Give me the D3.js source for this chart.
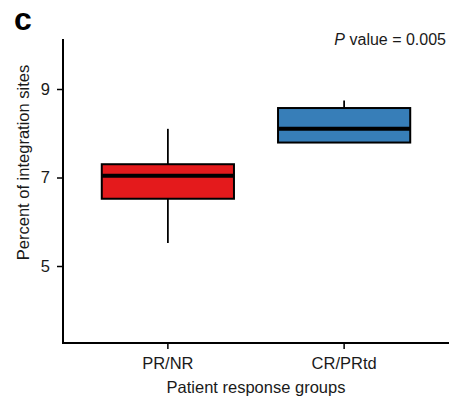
<!DOCTYPE html>
<html>
<head>
<meta charset="utf-8">
<script src="https://cdn.jsdelivr.net/npm/d3@7"></script>
<style>
  body { margin: 0; background: #fff; }
  svg { display: block; font-family: "Liberation Sans", Arial, sans-serif; }
</style>
</head>
<body>
<div id="chart"></div>
<script>
// groups and their box statistics
const groups = ["PR/NR", "CR/PRtd"];
const colors = ["#e41a1c", "#377eb8"];
const whiskerLow = [5.52, 7.79];
const q1 = [6.52, 7.79];
const median = [7.04, 8.10];
const q3 = [7.30, 8.57];
const whiskerHigh = [8.10, 8.74];
const yTicks = [5, 7, 9];

const width = 449, height = 401;
const margin = { top: 39, right: 0, bottom: 58, left: 63 };

const svg = d3.select("#chart").append("svg")
    .attr("width", width)
    .attr("height", height);

const x = d3.scaleBand()
    .domain(groups)
    .range([margin.left, width - margin.right])
    .paddingInner(0.25)
    .paddingOuter(0.22);

const y = d3.scaleLinear()
    .domain([3.26, 10.13])
    .range([height - margin.bottom, margin.top]);

// panel letter
svg.append("text")
    .attr("x", 14)
    .attr("y", 29.5)
    .attr("font-size", 32)
    .attr("font-weight", "bold")
    .text("c");

// p value
const pText = svg.append("text")
    .attr("x", 446)
    .attr("y", 45)
    .attr("text-anchor", "end")
    .attr("font-size", 16)
    .attr("fill", "#1a1a1a");
pText.append("tspan").attr("font-style", "italic").text("P");
pText.append("tspan").text(" value = 0.005");

// axes
const yAxis = svg.append("g")
    .attr("transform", `translate(${margin.left},0)`)
    .call(d3.axisLeft(y).tickValues(yTicks).tickFormat(d3.format("d"))
        .tickSize(6).tickPadding(7).tickSizeOuter(0));
const xAxis = svg.append("g")
    .attr("transform", `translate(0,${height - margin.bottom})`)
    .call(d3.axisBottom(x).tickSize(6).tickPadding(8).tickSizeOuter(0));

[yAxis, xAxis].forEach(g => {
    g.select(".domain").attr("stroke", "#000").attr("stroke-width", 2);
    g.selectAll(".tick line").attr("stroke", "#000").attr("stroke-width", 1.5);
    g.selectAll(".tick text").attr("font-size", 16.5).attr("fill", "#1a1a1a")
        .attr("font-family", "Liberation Sans, Arial, sans-serif");
});
// let the two axis lines meet in the corner
yAxis.select(".domain").attr("d", `M0,${y(10.13)}V${height - margin.bottom + 1}`);
xAxis.select(".domain").attr("d", `M${margin.left - 1},0H${width}`);

// axis titles
svg.append("text")
    .attr("transform", "translate(29,162.5) rotate(-90)")
    .attr("text-anchor", "middle")
    .attr("font-size", 16.5)
    .attr("fill", "#1a1a1a")
    .text("Percent of integration sites");

svg.append("text")
    .attr("x", 256)
    .attr("y", 393)
    .attr("text-anchor", "middle")
    .attr("font-size", 16.5)
    .attr("fill", "#1a1a1a")
    .text("Patient response groups");

// boxes
const boxes = svg.append("g")
    .selectAll("g")
    .data(groups)
    .join("g");

boxes.append("line")
    .attr("x1", d => x(d) + x.bandwidth() / 2)
    .attr("x2", d => x(d) + x.bandwidth() / 2)
    .attr("y1", (d, i) => y(whiskerLow[i]))
    .attr("y2", (d, i) => y(whiskerHigh[i]))
    .attr("stroke", "#000")
    .attr("stroke-width", 1.8);

boxes.append("rect")
    .attr("x", d => x(d))
    .attr("width", x.bandwidth())
    .attr("y", (d, i) => y(q3[i]))
    .attr("height", (d, i) => y(q1[i]) - y(q3[i]))
    .attr("fill", (d, i) => colors[i])
    .attr("stroke", "#000")
    .attr("stroke-width", 2);

boxes.append("line")
    .attr("x1", d => x(d))
    .attr("x2", d => x(d) + x.bandwidth())
    .attr("y1", (d, i) => y(median[i]))
    .attr("y2", (d, i) => y(median[i]))
    .attr("stroke", "#000")
    .attr("stroke-width", 4);
</script>
</body>
</html>
